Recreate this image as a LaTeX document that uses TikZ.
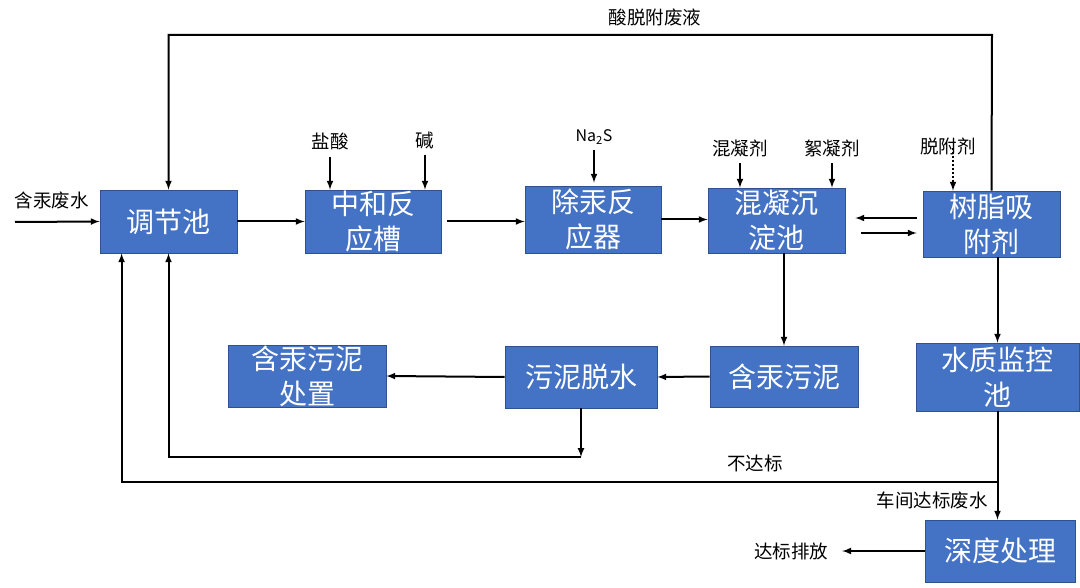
\documentclass[tikz,border=0pt]{standalone}
\usepackage{fontspec}
\setmainfont{Noto Sans CJK SC}
\usetikzlibrary{positioning}
\definecolor{boxblue}{HTML}{4472C4}
\definecolor{boxline}{HTML}{2F528F}
\tikzset{
  pool/.style={draw=boxline, fill=boxblue, text=white, align=center, inner sep=0pt, line width=0.8pt, font=\fontsize{28}{35}\selectfont},
  tag/.style={inner sep=0pt, font=\fontsize{18.5}{22}\selectfont},
  flow/.style={->, line width=2pt},
  >=latex,
}
\begin{document}
\begin{tikzpicture}[x=1pt,y=-1pt]
		\useasboundingbox (0,0) rectangle (1080,588);
		% process tanks
		\node[pool, minimum width=137pt, minimum height=63pt] (tj) at (168.5,221.5) {调节池};
		\node[pool, minimum width=136pt, minimum height=63pt] (zh) at (373,221.5) {中和反\\应槽};
		\node[pool, minimum width=136pt, minimum height=67pt] (cg) at (593,219.5) {除汞反\\应器};
		\node[pool, minimum width=137pt, minimum height=65pt] (hn) at (776.5,220.5) {混凝沉\\淀池};
		\node[pool, minimum width=137pt, minimum height=66pt] (sz) at (991.5,224) {树脂吸\\附剂};
		\node[pool, minimum width=158pt, minimum height=62pt] (cz) at (307,376) {含汞污泥\\处置};
		\node[pool, minimum width=152pt, minimum height=62pt] (ts) at (581,377) {污泥脱水};
		\node[pool, minimum width=148pt, minimum height=61pt] (wn) at (784,376.5) {含汞污泥};
		\node[pool, minimum width=163pt, minimum height=68pt] (jk) at (997.5,377) {水质监控\\池};
		\node[pool, minimum width=150pt, minimum height=62pt] (sd) at (1000,551) {深度处理};

		% labels
		\node[tag] (fs) at (52,200) {含汞废水};
		\node[tag] (tl) at (655,17) {酸脱附废液};
		\node[tag] (hcl) at (330,141) {盐酸};
		\node[tag] (jian) at (425,140) {碱};
		\node[tag, font=\fontsize{16}{20}\selectfont] (nas) at (594,137) {Na\textsubscript{2}S};
		\node[tag] (hnj) at (740,148) {混凝剂};
		\node[tag] (xnj) at (832,148) {絮凝剂};
		\node[tag] (tfj) at (948,146) {脱附剂};
		\node[tag] (bdb) at (755,463) {不达标};
		\node[tag] (dbfs) at (932,500) {车间达标废水};
		\node[tag] (pf) at (791,551) {达标排放};

		% main line
		\coordinate (in) at (15,222);
		\draw[flow] (in) -- (tj.west);
		\draw[flow] (tj.east) -- (zh.west);
		\draw[flow] ([xshift=6pt]zh.east) -- (zh.east -| cg.west);
		\draw[flow] (cg.east) -- (cg.east -| hn.west);
		\draw[flow] ([shift={(-6,-6)}]sz.west) -- ([shift={(10,-6)}]sz.west -| hn.east);
		\draw[flow] ([shift={(16,9)}]sz.west -| hn.east) -- ([shift={(-6,9)}]sz.west);

		% dosing
		\draw[flow] ([yshift=-7pt]hcl.south) -- (hcl.south |- zh.north);
		\draw[flow] ([yshift=-6pt]jian.south) -- (jian.south |- zh.north);
		\draw[flow] ([yshift=-6pt]nas.south) -- ([yshift=3pt]nas.south |- cg.north);
		\draw[flow] ([yshift=-6pt]hnj.south) -- (hnj.south |- hn.north);
		\draw[flow] ([yshift=-6pt]xnj.south) -- (xnj.south |- hn.north);
		\draw[flow, dotted] ([shift={(5,-7)}]tfj.south) -- ([xshift=5pt]tfj.south |- sz.north);

		% acid desorption return
		\coordinate (topR) at (992,35);
		\coordinate (topL) at (168.5,35);
		\draw[flow] (sz.north) -- (topR) -- (topL) -- (tj.north);

		% sludge
		\draw[flow] (wn.north |- hn.south) -- (wn.north);
		\draw[flow] (wn.west) -- (ts.east);
		\draw[flow] (ts.west) -- (cz.east);
		\coordinate (ret1) at (581,457);
		\draw[flow] (ts.south) -- (ret1);
		\draw[flow] (ret1) -| (tj.south);

		% effluent
		\draw[flow] (jk.north |- sz.south) -- (jk.north);
		\draw[flow] (jk.south) -- (jk.south |- sd.north);
		\coordinate (split) at (997.5,482);
		\draw[flow] (split) -| ([xshift=22pt]tj.south west);
		\draw[flow] (sd.west) -- ([xshift=14pt]pf.east);

	    \end{tikzpicture}
\end{document}
